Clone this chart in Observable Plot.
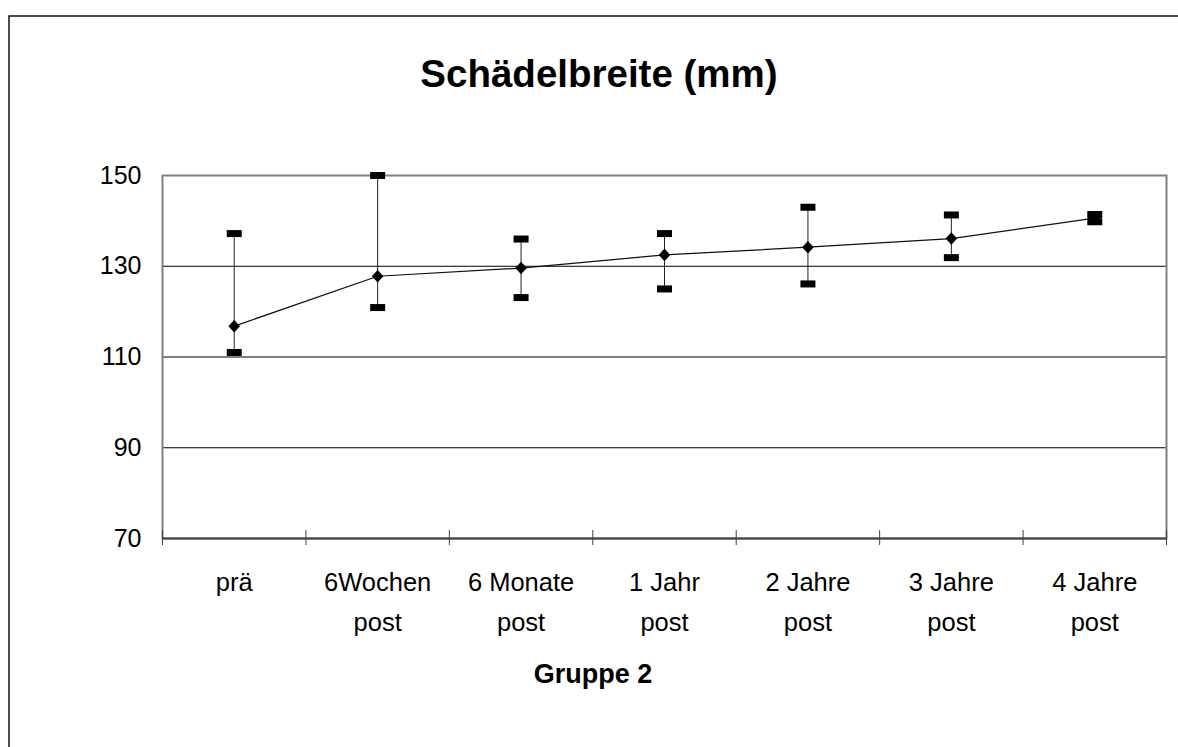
<!DOCTYPE html>
<html>
<head>
<meta charset="utf-8">
<script src="https://cdn.jsdelivr.net/npm/d3@7"></script>
<script src="https://cdn.jsdelivr.net/npm/@observablehq/plot@0.6"></script>
<style>
  html, body { margin: 0; padding: 0; background: #fff; }
  #chart { width: 1178px; height: 747px; overflow: hidden; }
</style>
</head>
<body>
<div id="chart"></div>
<script>
const categories = ["prä", "6Wochen\npost", "6 Monate\npost", "1 Jahr\npost", "2 Jahre\npost", "3 Jahre\npost", "4 Jahre\npost"];
const means = [116.8, 127.8, 129.6, 132.5, 134.2, 136.1, 140.6];
const upper = [137.2, 150.0, 136.0, 137.2, 143.0, 141.3, 141.4];
const lower = [111.0, 120.9, 123.1, 125.0, 126.1, 131.9, 139.8];
const yTicks = [70, 90, 110, 130, 150];
const gridValues = [90, 110, 130];
const title = "Schädelbreite (mm)";
const xTitle = "Gruppe 2";

const rows = categories.map((c, i) => ({pos: i + 0.5, label: c, mean: means[i], hi: upper[i], lo: lower[i]}));
const boundaries = d3.range(categories.length + 1);

const capSymbol = {draw(ctx) { ctx.rect(-7.5, -3.5, 15, 7); }};
const diamondSymbol = {draw(ctx) { ctx.moveTo(0, -6.3); ctx.lineTo(5.8, 0); ctx.lineTo(0, 6.3); ctx.lineTo(-5.8, 0); ctx.closePath(); }};

const font = "'Liberation Sans', Arial, sans-serif";

const plot = Plot.plot({
  width: 1178,
  height: 747,
  marginLeft: 162,
  marginRight: 12,
  marginTop: 175,
  marginBottom: 209,
  x: {domain: [0, categories.length]},
  y: {domain: [70, 150]},
  style: {fontFamily: font, background: "transparent", color: "#000"},
  marks: [
    Plot.ruleY(gridValues, {stroke: "#000", strokeWidth: 1}),
    Plot.frame({stroke: "#808080", strokeWidth: 2}),
    Plot.ruleY([70], {stroke: "#404040", strokeWidth: 2}),
    Plot.axisX({ticks: boundaries, tickSize: 15, dy: -8, tickFormat: () => "", stroke: "#404040", label: null}),
    Plot.axisY({ticks: yTicks, tickSize: 0, tickPadding: 21, fontSize: 25, fill: "#000", label: null}),
    Plot.text(rows, {x: "pos", text: "label", frameAnchor: "bottom", lineAnchor: "top", dy: 24, fontSize: 25.5, lineHeight: 1.56, fill: "#000"}),
    Plot.ruleX(rows, {x: "pos", y1: "lo", y2: "hi", stroke: "#222", strokeWidth: 1}),
    Plot.line(rows, {x: "pos", y: "mean", stroke: "#111", strokeWidth: 1.2}),
    Plot.dot(rows, {x: "pos", y: "hi", symbol: capSymbol, fill: "#000"}),
    Plot.dot(rows, {x: "pos", y: "lo", symbol: capSymbol, fill: "#000"}),
    Plot.dot(rows, {x: "pos", y: "mean", symbol: diamondSymbol, fill: "#000"})
  ]
});

const svg = d3.select(plot);
svg.append("path")
  .attr("d", "M9,800V16H1200")
  .attr("fill", "none")
  .attr("stroke", "#111")
  .attr("stroke-width", 1.5);
svg.append("text")
  .attr("x", 599).attr("y", 87)
  .attr("text-anchor", "middle")
  .attr("font-family", font)
  .attr("font-weight", "bold")
  .attr("font-size", 38.5)
  .attr("fill", "#000")
  .text(title);
svg.append("text")
  .attr("x", 593).attr("y", 683)
  .attr("text-anchor", "middle")
  .attr("font-family", font)
  .attr("font-weight", "bold")
  .attr("font-size", 27)
  .attr("fill", "#000")
  .text(xTitle);

document.getElementById("chart").appendChild(plot);
</script>
</body>
</html>
